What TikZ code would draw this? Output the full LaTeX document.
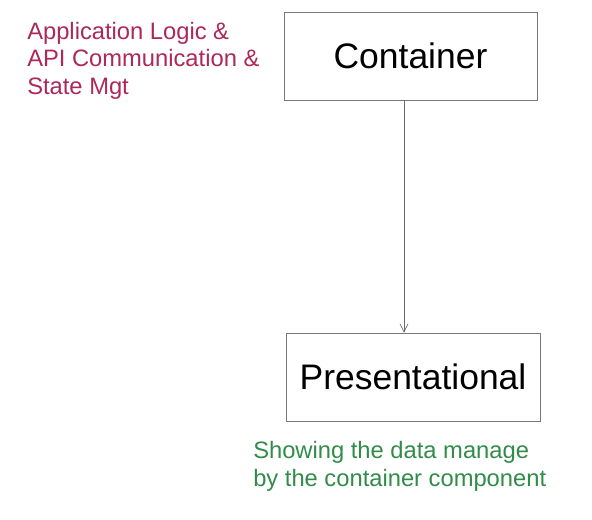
\documentclass[tikz,border=0pt]{standalone}
\usepackage{fontspec}
\setmainfont{Liberation Sans}
\usetikzlibrary{arrows.meta}
\definecolor{crim}{RGB}{172,40,88}
\definecolor{grn}{RGB}{48,140,72}
\definecolor{edge}{RGB}{120,120,120}
\begin{document}
\begin{tikzpicture}[x=0.75pt,y=-0.75pt,
  box/.style={draw=edge,line width=0.6pt,minimum width=253*0.75pt,minimum height=88*0.75pt,inner sep=0pt,font=\fontsize{26.6}{30}\selectfont},
  note/.style={inner sep=0pt,align=left,anchor=north west},
  link/.style={draw=edge!90!black,line width=0.5pt,-{Straight Barb[length=6pt,width=6pt]}}]
\useasboundingbox (0,0) rectangle (592,519);
\node[box] (cont) at (410.5,56) {Container};
\node[box,minimum width=254*0.75pt] (pres) at (413,377) {Presentational};
\draw[link] (cont.south -| 404,0) -- (pres.north -| 404,0);
\node[note,text=crim,font=\fontsize{17.8}{20.6}\selectfont] (logic) at (27,22) {Application Logic \&\\API Communication \&\\State Mgt};
\node[note,text=grn,font=\fontsize{17.8}{21}\selectfont] (show) at (253,441) {Showing the data manage\\by the container component};
\end{tikzpicture}
\end{document}
